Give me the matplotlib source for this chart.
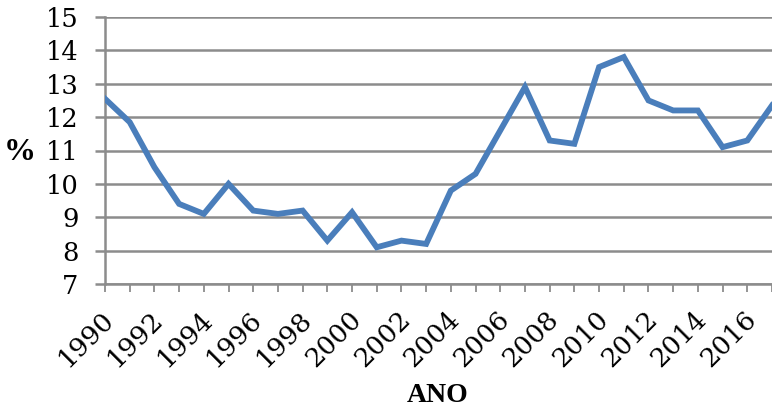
import numpy as np
import matplotlib.pyplot as plt
import matplotlib.transforms as mtransforms

# Série anual (%)
anos = list(range(1990, 2018))
valores = [12.55, 11.85, 10.5, 9.4, 9.1, 10.0, 9.2, 9.1, 9.2, 8.3,
           9.15, 8.1, 8.3, 8.2, 9.8, 10.3, 11.6, 12.9, 11.3, 11.2,
           13.5, 13.8, 12.5, 12.2, 12.2, 11.1, 11.3, 12.35]
anos_rotulo = list(range(1990, 2017, 2))
ticks_y = list(range(7, 16))

plt.rcParams['font.family'] = ['DejaVu Serif']

fig = plt.figure(figsize=(7.72, 4.12), dpi=100)
ax = fig.add_axes([105 / 772, 1 - 284 / 412, 667 / 772, 267 / 412])

cinza = '#8c8c8c'
ax.plot(anos, valores, color='#4a7ebb', lw=4.2, solid_joinstyle='miter',
        zorder=3)

ax.set_xlim(1990, 2017)
ax.set_ylim(7, 15)
ax.set_yticks(ticks_y)
ax.set_yticklabels([str(v) for v in ticks_y], fontsize=18.5)
ax.set_xticks(anos)
ax.set_xticklabels([])

# rótulos dos anos inclinados a 45°, abaixo do eixo
desloc = mtransforms.ScaledTranslation(-4 / 100, -22 / 100, fig.dpi_scale_trans)
for a in anos_rotulo:
    ax.text(a, 0, str(a), transform=ax.get_xaxis_transform() + desloc,
            fontsize=19, rotation=45, ha='right', va='top',
            rotation_mode='anchor')

ax.grid(axis='y', color=cinza, lw=1.8)
ax.set_axisbelow(True)
for lado in ['top', 'right']:
    ax.spines[lado].set_visible(False)
for lado in ['left', 'bottom']:
    ax.spines[lado].set_color(cinza)
    ax.spines[lado].set_linewidth(1.8)
ax.tick_params(axis='x', direction='out', length=5.5, width=1.3, color=cinza)
ax.tick_params(axis='y', direction='out', length=7, width=1.8, color=cinza, pad=12)

fig.text(20 / 772, 1 - 152 / 412, '%', fontsize=23, fontweight='bold',
         family='Liberation Serif', ha='center', va='center')
fig.text(438 / 772, 1 - 396 / 412, 'ANO', fontsize=20, fontweight='bold',
         family='Liberation Serif', ha='center', va='center')

fig.savefig('out.png', dpi=100)
